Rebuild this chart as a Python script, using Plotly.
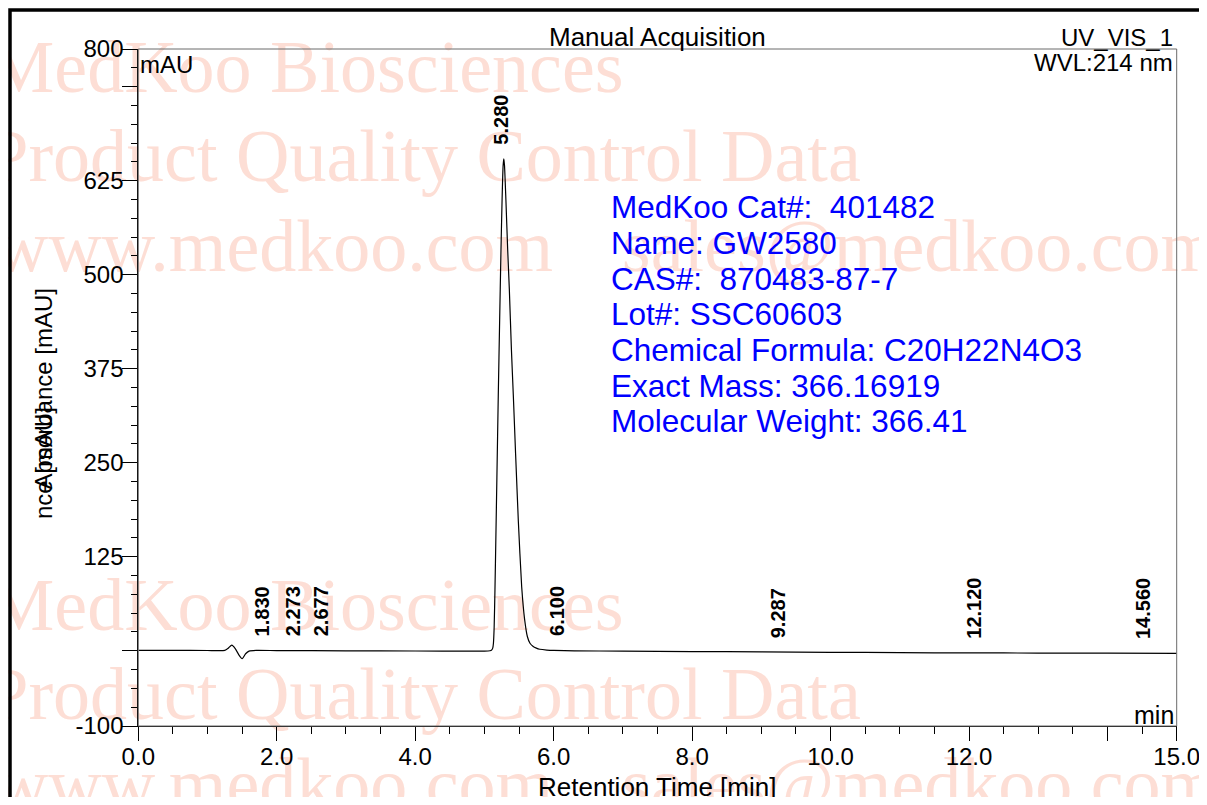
import plotly.graph_objects as go

# ---------------- data ----------------
time_min = [0.0, 0.5, 1.0, 1.25, 1.30, 1.35, 1.40, 1.45, 1.50, 1.55, 1.60, 1.70, 2.0, 3.0, 4.0, 4.8,
            5.0, 5.08, 5.10, 5.12, 5.13, 5.14, 5.152, 5.165, 5.18, 5.20, 5.22, 5.239, 5.255, 5.27,
            5.28, 5.29, 5.31, 5.336, 5.36, 5.39, 5.417, 5.45, 5.49, 5.538, 5.58, 5.62, 5.658, 5.70,
            5.75, 5.80, 5.90, 6.0, 6.3, 7.0, 8.0, 9.0, 10.0, 11.0, 12.0, 13.0, 14.0, 15.0]
absorbance = [0.5, 0.5, 0.4, 0.5, 3.5, 7.5, 3, -5, -10.5, -4, -0.5, 0.5, 0.3, 0, -0.3, -0.5,
              -0.5, 0, 0.6, 3.5, 10, 30, 81, 150, 230, 340, 440, 533, 600, 645,
              654, 645, 600, 533, 480, 400, 340, 262, 172, 85, 42, 19, 10, 6,
              3.5, 2, 1, 0.5, 0, -0.5, -1, -1.5, -2, -2.5, -2.8, -3, -3.2, -3.4]

peak_times = [1.830, 2.273, 2.677, 5.280, 6.100, 9.287, 12.120, 14.560]
peak_labels = ["1.830", "2.273", "2.677", "5.280", "6.100", "9.287", "12.120", "14.560"]
peak_heights = [0.5, 0.3, 0.2, 654, 0.5, -1.7, -2.8, -3.3]

x_tickvals = [0, 2, 4, 6, 8, 10, 12, 14, 15]
x_ticktext = ["0.0", "2.0", "4.0", "6.0", "8.0", "10.0", "12.0", "", "15.0"]
y_tickvals = [-100, 0, 125, 250, 375, 500, 625, 750, 800]
y_ticktext = ["-100", "", "125", "250", "375", "500", "625", "", "800"]

info_lines = ["MedKoo Cat#:\u00a0 401482", "Name: GW2580", "CAS#:\u00a0 870483-87-7",
              "Lot#: SSC60603", "Chemical Formula: C20H22N4O3",
              "Exact Mass: 366.16919", "Molecular Weight: 366.41"]

watermark_rows = ["MedKoo Biosciences", "Product Quality Control Data", "www.medkoo.com",
                  "MedKoo Biosciences", "Product Quality Control Data", "www.medkoo.com",
                  "sales@medkoo.com", "sales@medkoo.com"]

# ---------------- geometry (page has an 8px body margin) ----------------
OFF = 8
W, H = 1191, 789
XMIN, XMAX, YMIN, YMAX = 0, 15, -100, 800


def px(xp):            # target-picture pixel -> paper x
    return (xp - OFF) / W


def py(yp):            # target-picture pixel -> paper y
    return 1 - (yp - OFF) / H


X_DOM = [px(138.3), px(1176.7)]
Y_DOM = [py(726), py(49)]

FONT = "Arial, Liberation Sans, sans-serif"
SERIF = "Times New Roman, Liberation Serif, serif"
WM_COLOR = "rgb(253,222,213)"

fig = go.Figure()

# watermark: drawn on a hidden full-page subplot, underneath the chart
wm_cx = [306, 424, 274, 306, 424, 274, 920, 920]
wm_cy = [73, 162, 252, 611, 700, 790, 252, 790]
fig.add_trace(go.Scatter(x=wm_cx, y=wm_cy, text=watermark_rows, mode="text",
                         textposition="middle center",
                         textfont=dict(family=SERIF, size=74, color=WM_COLOR),
                         cliponaxis=False, hoverinfo="skip", showlegend=False,
                         xaxis="x", yaxis="y"))

fig.add_trace(go.Scatter(x=time_min, y=absorbance, mode="lines",
                         line=dict(color="black", width=1.2, shape="spline", smoothing=0.5),
                         hoverinfo="skip", showlegend=False, xaxis="x2", yaxis="y2"))

ann = []
# header texts
ann.append(dict(text="Manual Acquisition", xref="paper", yref="paper", x=px(657), y=py(37),
                xanchor="center", yanchor="middle", showarrow=False,
                font=dict(family=FONT, size=26, color="black")))
ann.append(dict(text="UV_VIS_1", xref="paper", yref="paper", x=px(1175), y=py(37),
                xanchor="right", yanchor="middle", showarrow=False,
                font=dict(family=FONT, size=24, color="black")))
ann.append(dict(text="WVL:214 nm", xref="paper", yref="paper", x=px(1175), y=py(63),
                xanchor="right", yanchor="middle", showarrow=False,
                font=dict(family=FONT, size=24, color="black")))
ann.append(dict(text="mAU", xref="paper", yref="paper", x=px(138), y=py(64),
                xanchor="left", yanchor="middle", showarrow=False,
                font=dict(family=FONT, size=24, color="black")))
ann.append(dict(text="min", xref="paper", yref="paper", x=px(1176), y=py(715),
                xanchor="right", yanchor="middle", showarrow=False,
                font=dict(family=FONT, size=25, color="black")))
ann.append(dict(text="Retention Time [min]", xref="paper", yref="paper", x=px(657), y=py(787),
                xanchor="center", yanchor="middle", showarrow=False,
                font=dict(family=FONT, size=26, color="black")))
# y-axis title (overlapping as in reference)
ann.append(dict(text="Absorbance [mAU]", xref="paper", yref="paper", x=px(43), y=py(287),
                xanchor="center", yanchor="top", textangle=-90, showarrow=False,
                font=dict(family=FONT, size=24, color="black")))
ann.append(dict(text="nce [mAU]", xref="paper", yref="paper", x=px(43), y=py(521),
                xanchor="center", yanchor="bottom", textangle=-90, showarrow=False,
                font=dict(family=FONT, size=24, color="black")))

# info block
info_centers = [207, 243, 279, 314, 350, 386, 421]
for txt, yc in zip(info_lines, info_centers):
    ann.append(dict(text=txt, xref="paper", yref="paper", x=px(609), y=py(yc),
                    xanchor="left", yanchor="middle", showarrow=False,
                    font=dict(family=FONT, size=31.5, color="#0000FF")))

# peak labels
for t, lab, h in zip(peak_times, peak_labels, peak_heights):
    ann.append(dict(text="<b>" + lab + "</b>", xref="x2", yref="y2", x=t, y=h,
                    xanchor="center", yanchor="bottom", textangle=-90, showarrow=False,
                    xshift=-3, yshift=12,
                    font=dict(family=FONT, size=20, color="black")))

shapes = [
    dict(type="rect", xref="paper", yref="paper", x0=X_DOM[0], x1=X_DOM[1], y0=Y_DOM[0],
         y1=Y_DOM[1], line=dict(color="#6a6a6a", width=1), layer="above"),
    dict(type="rect", xref="paper", yref="paper", x0=px(10), x1=px(1240), y0=py(840), y1=py(10),
         line=dict(color="black", width=3.5), layer="above"),
]

tick_font = dict(family=FONT, size=24, color="black")
fig.update_layout(
    width=W, height=H,
    margin=dict(l=0, r=0, t=0, b=0, pad=0, autoexpand=False),
    paper_bgcolor="white", plot_bgcolor="rgba(0,0,0,0)",
    showlegend=False,
    annotations=ann,
    shapes=shapes,
    xaxis=dict(domain=[0, 1], range=[OFF, OFF + W], visible=False, fixedrange=True),
    yaxis=dict(domain=[0, 1], range=[OFF + H, OFF], visible=False, fixedrange=True),
    xaxis2=dict(domain=X_DOM, anchor="y2", range=[XMIN, XMAX], tickmode="array",
                tickvals=x_tickvals, ticktext=x_ticktext,
                ticks="outside", ticklen=14, tickwidth=1, tickcolor="black",
                minor=dict(dtick=0.5, tick0=0, ticks="outside", ticklen=7, tickcolor="black",
                           tickwidth=1),
                ticklabelstandoff=-5, ticklabeloverflow="allow",
                showline=True, linecolor="black", linewidth=1, showgrid=False, zeroline=False,
                tickfont=tick_font),
    yaxis2=dict(domain=Y_DOM, anchor="x2", range=[YMIN, YMAX], tickmode="array",
                tickvals=y_tickvals, ticktext=y_ticktext,
                ticks="outside", ticklen=15, tickwidth=1, tickcolor="black",
                minor=dict(dtick=25, tick0=0, ticks="outside", ticklen=6, tickcolor="black",
                           tickwidth=1),
                ticklabelstandoff=-6, ticklabeloverflow="allow",
                showline=True, linecolor="black", linewidth=1, showgrid=False, zeroline=False,
                tickfont=tick_font),
)

fig.write_html("out.html")
